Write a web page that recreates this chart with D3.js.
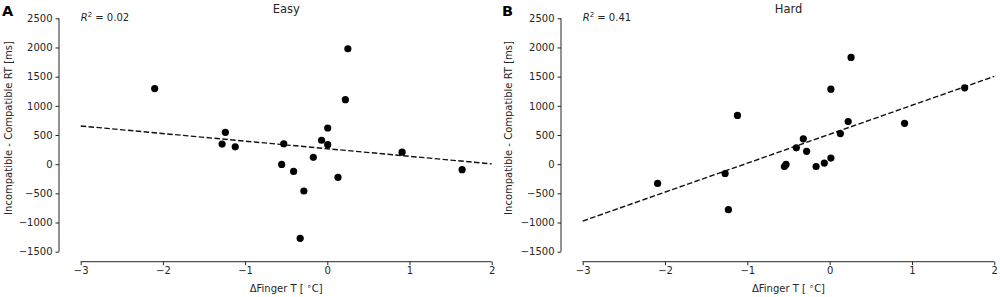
<!DOCTYPE html>
<html>
  <head>
    <meta charset="utf-8" />
    <title>finger temperature vs RT</title>
    <script src="https://cdn.jsdelivr.net/npm/d3@7"></script>
  </head>

  <style>
    body {
      background: #fff;
      margin: 0px;
      padding: 0px;
      overflow: hidden;
    }
    text {
      font-family: "DejaVu Sans", sans-serif;
      fill: #262626;
    }
    .domain, .tick line {
      stroke: #262626;
    }
    .fit {
      fill: none;
      stroke: #111;
      stroke-width: 1.4;
      stroke-dasharray: 5.5, 2.4;
    }
  </style>

  <body>
    <script>

      // panel A - easy
      var easyX = [-2.10, 0.25, 0.22, 0.005, -1.24, -1.28, -1.12, -0.53, -0.07, 0.005, 0.91, 1.64, -0.555, -0.17, -0.41, 0.13, -0.285, -0.33];
      var easyY = [1295, 1978, 1105, 620, 545, 345, 298, 350, 410, 335, 205, -95, -5, 118, -125, -225, -460, -1270];
      var easyFit = [[-3, 655], [2, 5]];

      // panel B - hard
      var hardX = [-1.12, 0.26, 0.015, 1.64, 0.225, 0.91, 0.13, -0.32, -0.405, -0.28, -0.53, -0.55, -0.165, -0.065, 0.015, -1.27, -2.09, -1.23];
      var hardY = [835, 1830, 1285, 1308, 730, 700, 525, 435, 280, 220, -5, -40, -40, 18, 105, -160, -330, -780];
      var hardFit = [[-3, -975], [2, 1505]];

      var xTicks = [-3, -2, -1, 0, 1, 2];
      var yTicks = [-1500, -1000, -500, 0, 500, 1000, 1500, 2000, 2500];

      var panels = [
        { letter: "A", title: "Easy", r2: "0.02", xs: easyX, ys: easyY, fit: easyFit, left: 59, x0: 80.7, x1: 491.7, lx: 2 },
        { letter: "B", title: "Hard", r2: "0.41", xs: hardX, ys: hardY, fit: hardFit, left: 561, x0: 582.7, x1: 994.3, lx: 502 }
      ];

      var svg = d3.select("body").append("svg")
        .attr("width", 1000)
        .attr("height", 297);

      var fmt = function(d) { return d < 0 ? "\u2212" + Math.abs(d) : "" + d; };

      panels.forEach(function(p) {

        var x = d3.scaleLinear().domain([-3, 2]).range([p.x0, p.x1]);
        var y = d3.scaleLinear().domain([-1500, 2500]).range([251.7, 18.3]);

        var g = svg.append("g");

        // y axis spine sits left of the data area (despined, offset)
        g.append("g")
          .attr("transform", "translate(" + p.left + ",0)")
          .call(d3.axisLeft(y).tickValues(yTicks).tickFormat(fmt).tickSize(3.5).tickPadding(3))
          .call(function(a) {
            a.selectAll("text").style("font-size", "10px").attr("fill", "#262626");
            a.select(".domain").attr("d", "M0," + y(-1500) + "V" + y(2500));
          });

        g.append("g")
          .attr("transform", "translate(0,261.7)")
          .call(d3.axisBottom(x).tickValues(xTicks).tickFormat(fmt).tickSize(3.5).tickPadding(2))
          .call(function(a) {
            a.selectAll("text").style("font-size", "10px").attr("fill", "#262626");
            a.select(".domain").attr("d", "M" + x(-3) + ",0H" + x(2));
          });

        var line = d3.line()
          .x(function(d) { return x(d[0]); })
          .y(function(d) { return y(d[1]); });

        g.append("path")
          .datum(p.fit)
          .attr("class", "fit")
          .attr("d", line);

        g.selectAll(".dot")
          .data(p.xs.map(function(v, i) { return [v, p.ys[i]]; }))
          .enter().append("circle")
            .attr("class", "dot")
            .attr("cx", function(d) { return x(d[0]); })
            .attr("cy", function(d) { return y(d[1]); })
            .attr("r", 3.6)
            .style("fill", "#000");

        // title
        g.append("text")
          .attr("x", (p.x0 + p.x1) / 2)
          .attr("y", 13)
          .attr("text-anchor", "middle")
          .style("font-size", "11.5px")
          .text(p.title);

        // R squared
        var r = g.append("text")
          .attr("x", p.x0)
          .attr("y", 21)
          .style("font-size", "10px");
        r.append("tspan").style("font-style", "italic").text("R");
        r.append("tspan").attr("dy", -4).style("font-size", "7px").text("2");
        r.append("tspan").attr("dy", 4).text(" = " + p.r2);

        // panel letter
        g.append("text")
          .attr("x", p.lx)
          .attr("y", 15.5)
          .style("font-size", "14.5px")
          .style("font-weight", "bold")
          .style("fill", "#000")
          .text(p.letter);

        // axis labels
        g.append("text")
          .attr("transform", "translate(" + (p.lx + 10) + ",128) rotate(-90)")
          .attr("text-anchor", "middle")
          .style("font-size", "10px")
          .text("Incompatible - Compatible RT [ms]");

        var xl = g.append("text")
          .attr("x", (p.x0 + p.x1) / 2)
          .attr("y", 292)
          .attr("text-anchor", "middle")
          .style("font-size", "10px");
        xl.append("tspan").text("\u0394Finger T [ ");
        xl.append("tspan").attr("dy", -3).style("font-size", "8px").text("\u2218");
        xl.append("tspan").attr("dy", 3).text("C]");
      });

    </script>
  </body>
</html>
